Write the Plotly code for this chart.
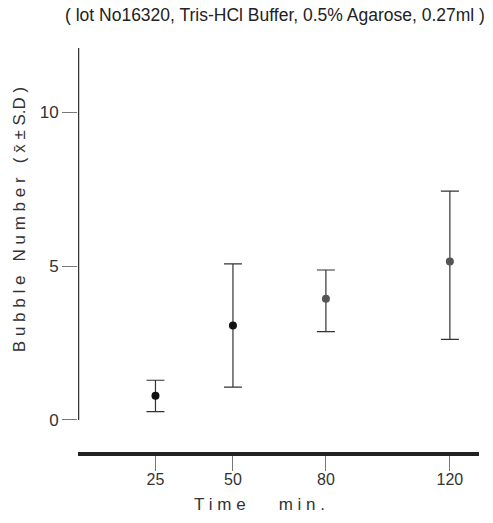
import plotly.graph_objects as go

# Data
times = [25, 50, 80, 120]
means = [0.79, 3.07, 3.94, 5.15]
upper = [1.29, 5.07, 4.87, 7.43]
lower = [0.27, 1.07, 2.87, 2.62]
marker_colors = ["#111111", "#111111", "#555555", "#555555"]
x_ticks = [25, 50, 80, 120]
y_ticks = [0, 5, 10]

err_plus = [u - m for u, m in zip(upper, means)]
err_minus = [m - l for m, l in zip(means, lower)]

fig = go.Figure()
fig.add_trace(go.Scatter(
    x=times, y=means, mode="markers",
    marker=dict(size=8, color=marker_colors),
    error_y=dict(type="data", symmetric=False, array=err_plus, arrayminus=err_minus,
                 color="#333333", thickness=1.2, width=9),
    showlegend=False,
))

y_top = 12.08
# y axis line from 0 to top
fig.add_shape(type="line", xref="x", yref="y", x0=0, x1=0, y0=0, y1=y_top,
              line=dict(color="#333333", width=2.5))

fig.update_layout(
    width=493, height=523,
    margin=dict(l=78, r=14, t=48, b=71),
    paper_bgcolor="white", plot_bgcolor="white",
    font=dict(family="Liberation Sans, Arial, sans-serif", color="#333333"),
    xaxis=dict(range=[0, 129.4], tickvals=x_ticks, ticktext=[str(v) for v in x_ticks],
               showgrid=False, zeroline=False, showline=True, linecolor="#222222", linewidth=3.5,
               ticks="outside", ticklen=15, tickwidth=1, tickcolor="#777777",
               ticklabelstandoff=-5,
               tickfont=dict(size=16, color="#333333")),
    yaxis=dict(range=[-1.04, y_top], tickvals=y_ticks, ticktext=[str(v) for v in y_ticks],
               showgrid=False, zeroline=False, showline=False,
               ticks="outside", ticklen=15, tickwidth=1, tickcolor="#777777",
               tickfont=dict(size=17, color="#333333")),
    annotations=[
        dict(text="( lot No16320, Tris-HCl Buffer, 0.5% Agarose, 0.27ml )",
             xref="paper", yref="paper", x=0.491, y=1.082, xanchor="center", yanchor="middle",
             showarrow=False, font=dict(size=17.5, color="#222222")),
        dict(text="B u b b l e   N u m b e r   ( x\u0304 \u00b1 S.D )",
             xref="paper", yref="paper", x=-0.147, y=0.574, xanchor="center", yanchor="middle",
             textangle=-90, showarrow=False, font=dict(size=17, color="#333333")),
        dict(text="T i m e       m i n .",
             xref="paper", yref="paper", x=0.453, y=-0.131, xanchor="center", yanchor="middle",
             showarrow=False, font=dict(size=17, color="#333333")),
    ],
)

fig.write_html("out.html")
